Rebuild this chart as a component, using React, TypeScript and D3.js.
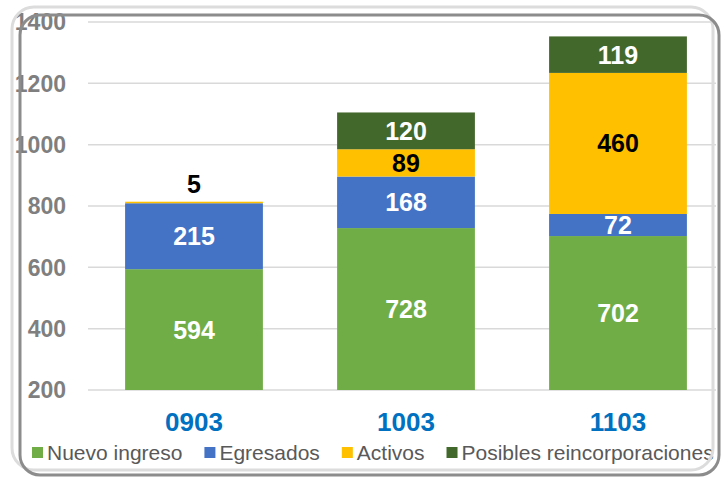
import React, { useEffect, useRef } from 'react';
import * as d3 from 'd3';

const periods = ['0903', '1003', '1103'];
const seriesNames = ['Nuevo ingreso', 'Egresados', 'Activos', 'Posibles reincorporaciones'];
const nuevoIngreso = [594, 728, 702];
const egresados = [215, 168, 72];
const activos = [5, 89, 460];
const posibles = [0, 120, 119];
const yTicks = [200, 400, 600, 800, 1000, 1200, 1400];

const colors = ['#70ad47', '#4472c4', '#ffc000', '#43682b'];
const labelColors = ['#ffffff', '#ffffff', '#000000', '#ffffff'];

const App = () => {
  const chart = useRef<SVGSVGElement>(null);

  useEffect(() => {
    const svg = d3.select(chart.current);
    svg.selectAll('*').remove();
    const font = 'Liberation Sans, Arial, sans-serif';

    const margin = { left: 88, right: 1, top: 22, bottom: 91 };
    const width = 725;
    const height = 481;

    const rows = periods.map((p, i) => ({
      period: p,
      s0: nuevoIngreso[i],
      s1: egresados[i],
      s2: activos[i],
      s3: posibles[i],
    }));
    const keys = ['s0', 's1', 's2', 's3'];
    const stacked = d3.stack<any>().keys(keys)(rows);

    const x = d3
      .scaleBand()
      .domain(periods)
      .range([margin.left, width - margin.right])
      .paddingInner(0.35)
      .paddingOuter(0.175);

    const y = d3
      .scaleLinear()
      .domain([200, 1400])
      .range([height - margin.bottom, margin.top])
      .clamp(true);

    // grid
    svg
      .append('g')
      .selectAll('line')
      .data(yTicks)
      .join('line')
      .attr('x1', margin.left)
      .attr('x2', 716)
      .attr('y1', (d) => y(d))
      .attr('y2', (d) => y(d))
      .attr('stroke', '#d9d9d9')
      .attr('stroke-width', 1.5);

    // y tick labels
    svg
      .append('g')
      .selectAll('text')
      .data(yTicks)
      .join('text')
      .attr('x', 66)
      .attr('y', (d) => y(d))
      .attr('dy', '0.36em')
      .attr('text-anchor', 'end')
      .attr('font-family', font)
      .attr('font-weight', 'bold')
      .attr('font-size', 23)
      .attr('fill', '#7f7f7f')
      .text((d) => d);

    // bars
    const layers = svg
      .append('g')
      .selectAll('g')
      .data(stacked)
      .join('g')
      .attr('fill', (d, i) => colors[i]);

    layers
      .selectAll('rect')
      .data((d) => d.filter((s) => s[1] - s[0] > 0))
      .join('rect')
      .attr('x', (d: any) => x(d.data.period)!)
      .attr('width', x.bandwidth())
      .attr('y', (d) => y(d[1]))
      .attr('height', (d) => y(d[0]) - y(d[1]));

    // data labels
    stacked.forEach((layer, li) => {
      svg
        .append('g')
        .selectAll('text')
        .data(layer.filter((s) => s[1] - s[0] > 0))
        .join('text')
        .attr('x', (d: any) => x(d.data.period)! + x.bandwidth() / 2)
        .attr('y', (d) => {
          const v = d[1] - d[0];
          if (v < 20) return y(d[1]) - 18;
          return (y(Math.max(d[0], 200)) + y(d[1])) / 2;
        })
        .attr('dy', '0.36em')
        .attr('text-anchor', 'middle')
        .attr('font-family', font)
        .attr('font-weight', 'bold')
        .attr('font-size', 25)
        .attr('fill', (d) => (d[1] - d[0] < 20 ? '#000000' : labelColors[li]))
        .text((d) => d[1] - d[0]);
    });

    // x labels
    svg
      .append('g')
      .selectAll('text')
      .data(periods)
      .join('text')
      .attr('x', (d) => x(d)! + x.bandwidth() / 2)
      .attr('y', 422)
      .attr('dy', '0.36em')
      .attr('text-anchor', 'middle')
      .attr('font-family', font)
      .attr('font-weight', 'bold')
      .attr('font-size', 26)
      .attr('fill', '#0070c0')
      .text((d) => d);

    // legend
    const legend = svg.append('g');
    let lx = 32;
    seriesNames.forEach((name, i) => {
      legend
        .append('rect')
        .attr('x', lx)
        .attr('y', 447)
        .attr('width', 11)
        .attr('height', 11)
        .attr('fill', colors[i]);
      const t = legend
        .append('text')
        .attr('x', lx + 15)
        .attr('y', 452.5)
        .attr('dy', '0.36em')
        .attr('font-family', font)
        .attr('font-size', 21)
        .attr('fill', '#595959')
        .text(name);
      const w = (t.node() as SVGTextElement).getComputedTextLength();
      lx += 15 + w + 22;
    });

    // frame
    svg
      .append('rect')
      .attr('x', 12)
      .attr('y', 7)
      .attr('width', 701)
      .attr('height', 463)
      .attr('rx', 22)
      .attr('fill', 'none')
      .attr('stroke', '#dcdcdc')
      .attr('stroke-width', 3);
    svg
      .append('rect')
      .attr('x', 20)
      .attr('y', 15)
      .attr('width', 699)
      .attr('height', 460)
      .attr('rx', 20)
      .attr('fill', 'none')
      .attr('stroke', '#8c8c8c')
      .attr('stroke-width', 3);
  }, []);

  return (
    <svg
      ref={chart}
      width={725}
      height={481}
      style={{ position: 'absolute', left: 0, top: 0, background: '#ffffff' }}
    />
  );
};

export default App;
